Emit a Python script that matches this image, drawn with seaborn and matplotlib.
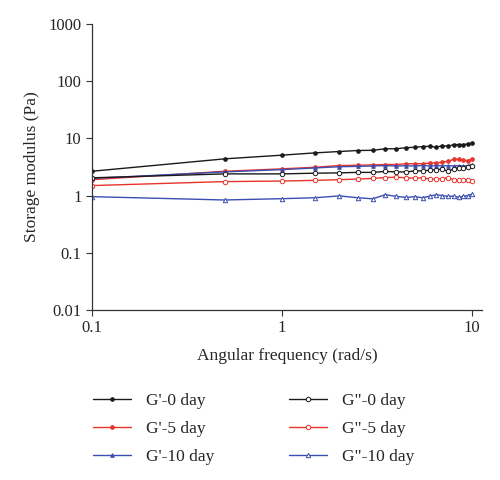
import matplotlib
matplotlib.use("Agg")
import matplotlib.pyplot as plt
import seaborn as sns
import pandas as pd

# angular frequency (rad/s)
freq = [0.1, 0.5, 1.0, 1.5, 2.0, 2.5, 3.0, 3.5, 4.0, 4.5, 5.0,
        5.5, 6.0, 6.5, 7.0, 7.5, 8.0, 8.5, 9.0, 9.5, 10.0]

g1_0 = [2.67, 4.4, 5.1, 5.6, 5.9, 6.15, 6.2, 6.6, 6.6, 6.9, 7.0,
        7.2, 7.3, 7.0, 7.5, 7.3, 7.8, 7.8, 7.8, 8.0, 8.2]
g1_5 = [1.9, 2.67, 2.94, 3.14, 3.36, 3.4, 3.45, 3.5, 3.5, 3.6, 3.62,
        3.62, 3.7, 3.75, 3.85, 4.0, 4.3, 4.3, 4.15, 4.1, 4.35]
g1_10 = [2.0, 2.6, 2.85, 3.05, 3.2, 3.25, 3.3, 3.35, 3.3, 3.32, 3.3,
         3.35, 3.3, 3.35, 3.3, 3.35, 3.3, 3.35, 3.3, 3.35, 3.5]
g2_0 = [2.05, 2.4, 2.4, 2.47, 2.5, 2.55, 2.55, 2.65, 2.6, 2.6, 2.7,
        2.72, 2.78, 2.85, 2.9, 2.65, 2.95, 3.05, 3.0, 3.2, 3.3]
g2_5 = [1.5, 1.76, 1.8, 1.85, 1.9, 1.95, 2.0, 2.07, 2.1, 2.05, 2.02,
        2.05, 1.95, 1.97, 1.97, 2.07, 1.9, 1.85, 1.9, 1.9, 1.8]
g2_10 = [0.96, 0.84, 0.885, 0.92, 0.99, 0.92, 0.88, 1.04, 0.97, 0.93, 0.96,
         0.92, 0.98, 1.04, 1.0, 0.97, 0.98, 0.94, 0.97, 1.0, 1.06]

labels = ["G'-0 day", "G'-5 day", "G'-10 day", "G\"-0 day", "G\"-5 day", "G\"-10 day"]
series = [g1_0, g1_5, g1_10, g2_0, g2_5, g2_10]

black, red, blue = "#1a1a1a", "#e8342b", "#3a4db0"
styles = [
    dict(color=black, marker="o", ms=2.6, mfc=black),
    dict(color=red, marker="o", ms=2.6, mfc=red),
    dict(color=blue, marker="^", ms=2.6, mfc=blue),
    dict(color=black, marker="o", ms=3.2, mfc="white"),
    dict(color=red, marker="o", ms=3.2, mfc="white"),
    dict(color=blue, marker="^", ms=3.2, mfc="white"),
]

sns.set_style("ticks")
plt.rcParams["font.family"] = ["Liberation Serif", "DejaVu Serif"]

fig = plt.figure(figsize=(5, 4.8), dpi=100)
ax = fig.add_axes([0.184, 0.354, 0.78, 0.596])

for lab, vals, st in zip(labels, series, styles):
    df = pd.DataFrame({"freq": freq, "G": vals})
    sns.lineplot(data=df, x="freq", y="G", ax=ax, label=lab, color=st["color"],
                 marker=st["marker"], markersize=st["ms"], markerfacecolor=st["mfc"],
                 markeredgecolor=st["color"], markeredgewidth=0.7, linewidth=1.0)

ax.set_xscale("log")
ax.set_yscale("log")
ax.set_xlim(0.1, 11.3)
ax.set_ylim(0.01, 1000)
ax.set_xticks([0.1, 1, 10])
ax.set_xticklabels(["0.1", "1", "10"])
ax.set_yticks([0.01, 0.1, 1, 10, 100, 1000])
ax.set_yticklabels(["0.01", "0.1", "1", "10", "100", "1000"])
ax.minorticks_off()
ax.tick_params(labelsize=12, length=4, width=0.8, color="#333333")
ax.set_xlabel("Angular frequency (rad/s)", fontsize=12.5, labelpad=8)
ax.set_ylabel("Storage modulus (Pa)", fontsize=12.5, labelpad=6)
for s in ["left", "bottom"]:
    ax.spines[s].set_linewidth(0.9)
    ax.spines[s].set_color("#333333")
sns.despine(ax=ax)

ax.legend(loc="upper left", bbox_to_anchor=(0.186, 0.182), bbox_transform=fig.transFigure,
          ncol=2, frameon=False, fontsize=12.5, handlelength=2.2, columnspacing=4.3,
          labelspacing=0.68, handletextpad=0.85, borderpad=0, borderaxespad=0)

fig.savefig("out.png", dpi=100)
